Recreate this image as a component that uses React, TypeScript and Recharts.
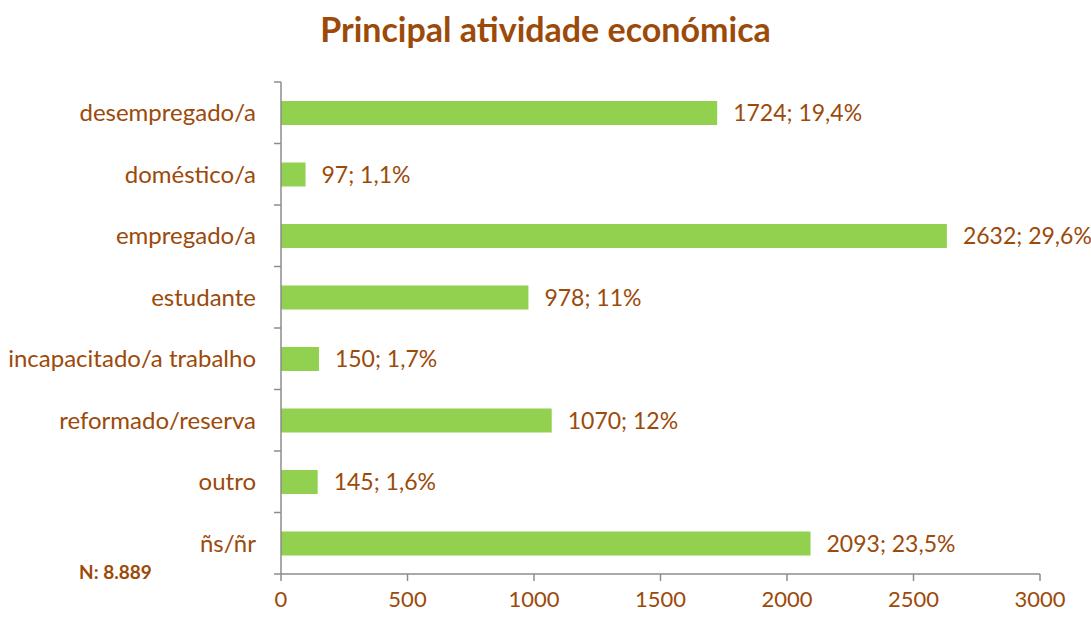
import React from "react";
import { BarChart, Bar, XAxis, YAxis, LabelList } from "recharts";

const categories = [
  "desempregado/a",
  "doméstico/a",
  "empregado/a",
  "estudante",
  "incapacitado/a trabalho",
  "reformado/reserva",
  "outro",
  "ñs/ñr",
];
const counts = [1724, 97, 2632, 978, 150, 1070, 145, 2093];
const percents = ["19,4%", "1,1%", "29,6%", "11%", "1,7%", "12%", "1,6%", "23,5%"];
const xTicks = [0, 500, 1000, 1500, 2000, 2500, 3000];

const data = categories.map((c, i) => ({ name: c, value: counts[i], label: `${counts[i]}; ${percents[i]}` }));

const BROWN = "#9C4A0A";
const GREEN = "#92D050";
const AXIS = "#8C8C8C";
const FONT = "Lato, 'Open Sans', sans-serif";

const CatTick = (props: any) => {
  const { x, y, payload, index, visibleTicksCount } = props;
  const half = payload && payload.offset ? payload.offset : 0;
  const axisX = x + 25;
  const isLast = index === (visibleTicksCount ?? categories.length) - 1;
  return (
    <g>
      <line x1={axisX - 7} x2={axisX} y1={y - half} y2={y - half} stroke={AXIS} strokeWidth={1.5} />
      {isLast ? (
        <line x1={axisX - 7} x2={axisX} y1={y + half} y2={y + half} stroke={AXIS} strokeWidth={1.5} />
      ) : null}
      <text x={x} y={y} dy="0.35em" textAnchor="end" fill={BROWN} fontSize={24} fontFamily={FONT}>
        {payload.value}
      </text>
    </g>
  );
};

export default function App() {
  return (
    <div style={{ position: "absolute", left: 0, top: 0, width: 1091, height: 619, background: "#fff", fontFamily: FONT }}>
      <div
        style={{
          position: "absolute",
          left: 0,
          width: 1091,
          top: 8,
          textAlign: "center",
          fontSize: 34,
          fontWeight: 700,
          color: BROWN,
          fontFamily: FONT,
        }}
      >
        Principal atividade económica
      </div>
      <BarChart
        width={1091}
        height={619}
        data={data}
        layout="vertical"
        margin={{ top: 82, right: 51, bottom: 0, left: 0 }}
        barCategoryGap={0}
      >
        <XAxis
          xAxisId="x"
          type="number"
          domain={[0, 3000]}
          ticks={xTicks}
          interval={0}
          height={45}
          stroke={AXIS}
          strokeWidth={1.5}
          tickSize={7}
          tickMargin={10}
          tick={{ fill: BROWN, fontSize: 22, fontFamily: FONT }}
        />
        <YAxis
          yAxisId="cat"
          type="category"
          dataKey="name"
          width={281}
          axisLine={{ stroke: AXIS, strokeWidth: 1.5 }}
          tickLine={false}
          tickSize={6}
          tickMargin={19}
          interval={0}
          tick={<CatTick />}
        />
        <Bar xAxisId="x" yAxisId="cat" dataKey="value" fill={GREEN} barSize={24} isAnimationActive={false}>
          <LabelList dataKey="label" position="right" offset={16} fill={BROWN} fontSize={23} fontFamily={FONT} />
        </Bar>
      </BarChart>
      <div
        style={{
          position: "absolute",
          left: 79,
          top: 560,
          fontSize: 19,
          fontWeight: 700,
          color: BROWN,
          fontFamily: FONT,
        }}
      >
        N: 8.889
      </div>
    </div>
  );
}
